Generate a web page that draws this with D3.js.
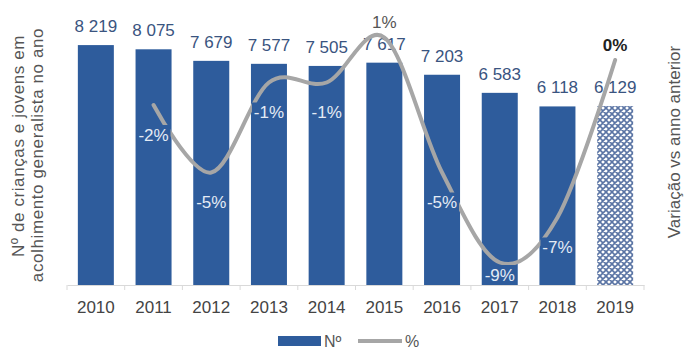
<!DOCTYPE html>
<html>
<head>
<meta charset="utf-8">
<script src="https://cdn.jsdelivr.net/npm/d3@7"></script>
<style>
  html, body { margin: 0; padding: 0; background: #fff; }
  svg { display: block; font-family: "Liberation Sans", Arial, sans-serif; }
</style>
</head>
<body>
<svg id="chart" width="684" height="351"></svg>
<script>
// Children and young people in generalist residential care, per year
const years = ["2010", "2011", "2012", "2013", "2014", "2015", "2016", "2017", "2018", "2019"];
const counts = [8219, 8075, 7679, 7577, 7505, 7617, 7203, 6583, 6118, 6129];
// Year-on-year change in %, as labelled (no value for the first year)
const pctChange = [null, -2, -5, -1, -1, 1, -5, -9, -7, 0];
// The last year is an estimate and gets a hatched bar
const estimateYears = ["2019"];

const leftTitle = ["Nº de crianças e jovens em", "acolhimento generalista no ano"];
const rightTitle = "Variação vs anno anterior";
const legendLabels = ["Nº", "%"];

const BAR = "#2e5c9c";
const LINE = "#a6a6a6";
const LABEL = "#3a5480";
const TEXT = "#555";

const svg = d3.select("#chart");

const x = d3.scaleBand()
  .domain(years)
  .range([67, 644])
  .paddingInner(0.376)
  .paddingOuter(0.188);

const y = d3.scaleLinear().domain([0, 9250]).range([285, 15]);
const y2 = d3.scaleLinear().domain([-10, 2]).range([285, 15]);

const fmt = n => d3.format(",")(n).replace(/,/g, " ");

// Crosshatch pattern for the estimated bar
const defs = svg.append("defs");
const pat = defs.append("pattern")
  .attr("id", "hatch")
  .attr("patternUnits", "userSpaceOnUse")
  .attr("width", 6).attr("height", 6);
pat.append("rect").attr("width", 6).attr("height", 6).attr("fill", "#fff");
pat.append("path")
  .attr("d", "M0,0 L6,6 M6,0 L0,6 M-1,5 L1,7 M5,-1 L7,1 M-1,1 L1,-1 M5,7 L7,5")
  .attr("stroke", "#5a74a4").attr("stroke-width", 1.6);

// X axis: baseline, year labels, ticks between categories
const xAxis = svg.append("g")
  .attr("transform", `translate(0,${y(0)})`)
  .call(d3.axisBottom(x).tickSize(0).tickPadding(16));
xAxis.select(".domain").attr("stroke", "#d9d9d9").attr("stroke-width", 1);
xAxis.selectAll("text")
  .attr("font-size", 17)
  .attr("font-family", "\"Liberation Sans\", Arial, sans-serif")
  .attr("fill", "#444");

const bounds = years.map(yr => x(yr) - x.step() * x.paddingInner() / 2)
  .concat([x(years[years.length - 1]) + x.bandwidth() + x.step() * x.paddingInner() / 2]);
svg.append("g").selectAll("line").data(bounds).join("line")
  .attr("x1", d => d).attr("x2", d => d)
  .attr("y1", y(0)).attr("y2", y(0) + 5)
  .attr("stroke", "#d9d9d9");

// Bars
svg.append("g").selectAll("rect").data(years).join("rect")
  .attr("x", d => x(d))
  .attr("width", x.bandwidth())
  .attr("y", (d, i) => y(counts[i]))
  .attr("height", (d, i) => y(0) - y(counts[i]))
  .attr("fill", d => estimateYears.includes(d) ? "url(#hatch)" : BAR);

// Bar value labels
svg.append("g").selectAll("text").data(years).join("text")
  .attr("x", d => x(d) + x.bandwidth() / 2)
  .attr("y", (d, i) => y(counts[i]) - 13)
  .attr("text-anchor", "middle")
  .attr("font-size", 17)
  .attr("fill", LABEL)
  .text((d, i) => fmt(counts[i]));

// Smoothed line of yearly change
const pts = years.map((yr, i) => ({ year: yr, p: pctChange[i] })).filter(d => d.p !== null);
const line = d3.line()
  .x(d => x(d.year) + x.bandwidth() / 2)
  .y(d => y2(d.p))
  .curve(d3.curveCardinal.tension(0));
svg.append("path")
  .datum(pts)
  .attr("d", line)
  .attr("fill", "none")
  .attr("stroke", LINE)
  .attr("stroke-width", 4)
  .attr("stroke-linecap", "round");

// Change labels: negatives below the line on a bar-coloured box, others above
const pctFmt = v => `${v}%`;
const lastYear = years[years.length - 1];
const lbl = svg.append("g").selectAll("g").data(pts).join("g")
  .attr("transform", d => {
    const cx = x(d.year) + x.bandwidth() / 2;
    const cy = d.p < 0 ? Math.min(y2(d.p) + 30, y(0) - 10) : y2(d.p) - 15;
    return `translate(${cx},${cy})`;
  });
lbl.filter(d => d.p < 0).append("rect")
  .attr("x", -17).attr("y", -10).attr("width", 34).attr("height", 20)
  .attr("fill", BAR);
lbl.append("text")
  .attr("text-anchor", "middle")
  .attr("dy", "0.35em")
  .attr("font-size", 17)
  .attr("font-weight", d => d.year === lastYear ? "bold" : "normal")
  .attr("fill", d => d.p < 0 ? "#e4ebf5" : (d.year === lastYear ? "#222" : TEXT))
  .text(d => pctFmt(d.p));

// Axis titles
svg.append("g").selectAll("text").data(leftTitle).join("text")
  .attr("transform", (d, i) => `translate(${18 + i * 19},${146 + i * 9}) rotate(-90)`)
  .attr("text-anchor", "middle")
  .attr("dominant-baseline", "central")
  .attr("font-size", 17)
  .attr("letter-spacing", 0.6)
  .attr("fill", TEXT)
  .text(d => d);

svg.append("text")
  .attr("transform", "translate(674,142) rotate(-90)")
  .attr("text-anchor", "middle")
  .attr("dominant-baseline", "central")
  .attr("font-size", 17)
  .attr("fill", TEXT)
  .text(rightTitle);

// Legend
const leg = svg.append("g").attr("transform", "translate(0,341)");
leg.append("rect").attr("x", 278).attr("y", -5).attr("width", 43).attr("height", 10).attr("fill", BAR);
leg.append("text").attr("x", 324).attr("dy", "0.35em").attr("font-size", 16).attr("fill", TEXT).text(legendLabels[0]);
leg.append("line").attr("x1", 358).attr("x2", 402).attr("stroke", LINE).attr("stroke-width", 4);
leg.append("text").attr("x", 405).attr("dy", "0.35em").attr("font-size", 16).attr("fill", TEXT).text(legendLabels[1]);
</script>
</body>
</html>
